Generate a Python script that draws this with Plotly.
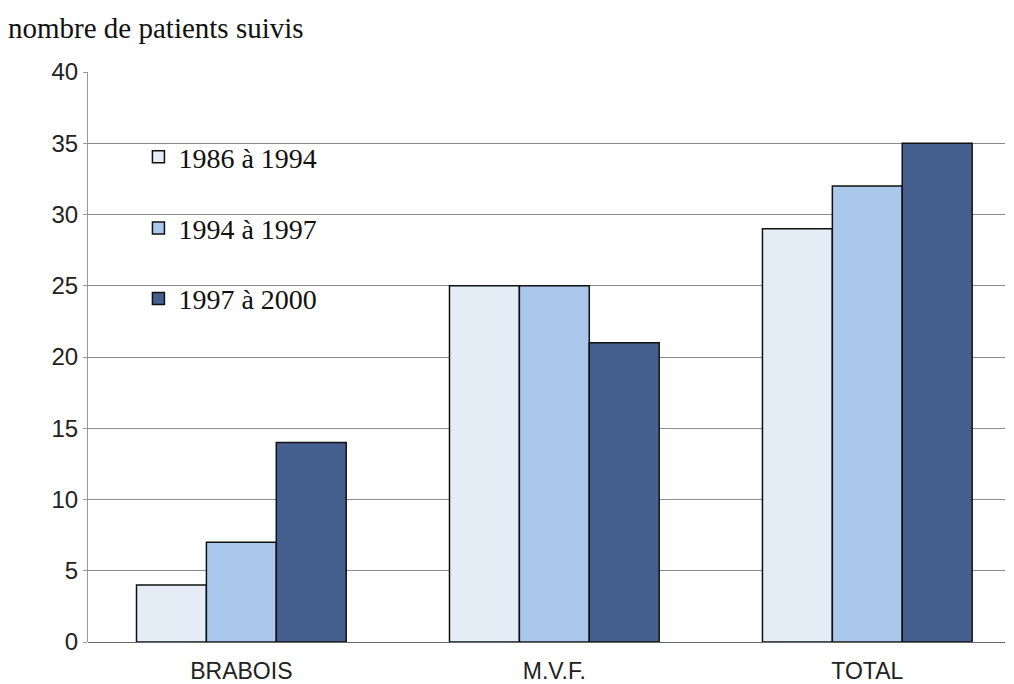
import plotly.graph_objects as go

categories = ['BRABOIS', 'M.V.F.', 'TOTAL']
series_names = ['1986 à 1994', '1994 à 1997', '1997 à 2000']
values_1986_1994 = [4, 25, 29]
values_1994_1997 = [7, 25, 32]
values_1997_2000 = [14, 21, 35]
y_ticks = [0, 5, 10, 15, 20, 25, 30, 35, 40]

colors = ['#e5edf7', '#a9c8ec', '#45608e']
series = [values_1986_1994, values_1994_1997, values_1997_2000]
legend_ids = ['legend', 'legend2', 'legend3']
legend_y = [0.851, 0.726, 0.602]

fig = go.Figure()
for name, vals, col, lid in zip(series_names, series, colors, legend_ids):
    fig.add_trace(go.Bar(
        name=name,
        x=categories,
        y=vals,
        legend=lid,
        showlegend=True,
        marker=dict(color=col, line=dict(color='#111111', width=1.5)),
    ))

legend_style = dict(
    xanchor='left', yanchor='middle',
    font=dict(family='Liberation Serif, Times New Roman', size=28, color='#111111'),
    bgcolor='rgba(0,0,0,0)',
)

# page adds an 8px body margin, so the figure is a bit smaller than the window
fig.update_layout(
    width=1006, height=676,
    barmode='group',
    bargap=0.33,
    bargroupgap=0,
    showlegend=True,
    plot_bgcolor='white',
    paper_bgcolor='white',
    margin=dict(l=80, r=9, t=64, b=42, autoexpand=False),
    font=dict(family='Liberation Sans, Arial', color='#222222'),
    legend=dict(x=0.055, y=legend_y[0], **legend_style),
    legend2=dict(x=0.055, y=legend_y[1], **legend_style),
    legend3=dict(x=0.055, y=legend_y[2], **legend_style),
    annotations=[dict(
        text='nombre de patients suivis', xref='paper', yref='paper',
        x=-0.089, y=1.077, xanchor='left', yanchor='middle', showarrow=False,
        font=dict(family='Liberation Serif, Times New Roman', size=29, color='#111111'),
    )],
)

fig.update_xaxes(
    range=[-0.49, 2.44],
    showline=False, showgrid=False, ticks='',
    ticklabelstandoff=13,
    tickfont=dict(size=23, color='#222222'),
)
fig.update_yaxes(
    range=[0, 40], tickvals=y_ticks,
    showgrid=True, gridcolor='#8a8a8a', gridwidth=1,
    showline=True, linecolor='#999999', linewidth=1,
    ticks='outside', ticklen=4, tickcolor='#999999',
    tickfont=dict(size=24, color='#222222'),
    zeroline=True, zerolinecolor='#666666', zerolinewidth=1,
)

fig.write_html("out.html")
